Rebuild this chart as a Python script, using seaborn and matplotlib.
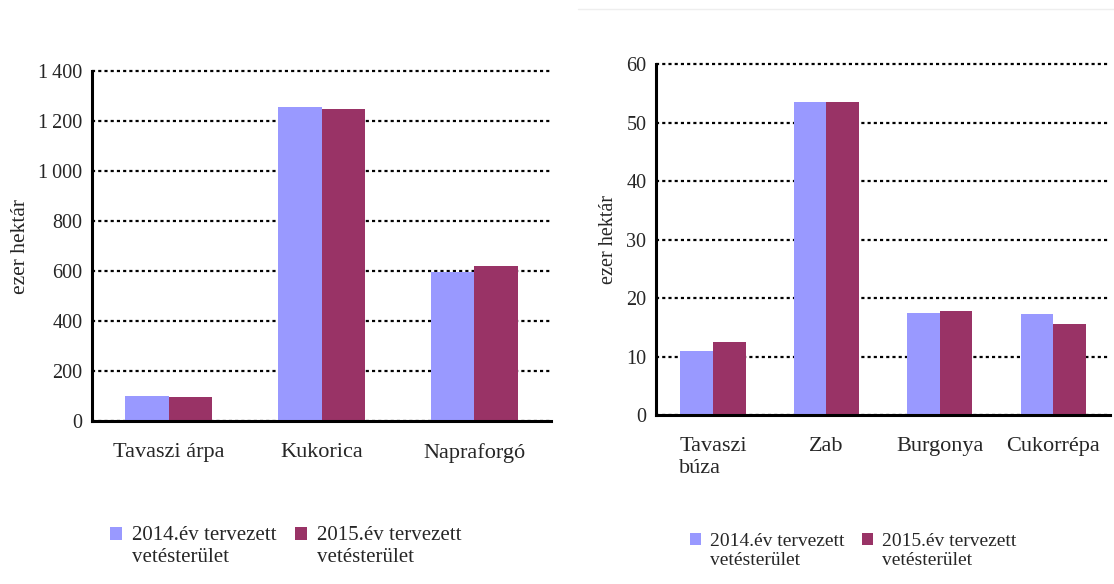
import matplotlib
matplotlib.use("Agg")
import matplotlib.pyplot as plt
import matplotlib.ticker as mticker
from matplotlib.patches import Rectangle
from matplotlib.legend_handler import HandlerPatch
import seaborn as sns
import pandas as pd

# adatok (ezer hektár)
series = ['2014.év tervezett\nvetésterület', '2015.év tervezett\nvetésterület']
crops_left = ['Tavaszi árpa', 'Kukorica', 'Napraforgó']
left_2014 = [99, 1256, 597]
left_2015 = [95, 1248, 622]
crops_right = ['Tavaszi\nbúza', 'Zab', 'Burgonya', 'Cukorrépa']
right_2014 = [10.9, 53.5, 17.4, 17.3]
right_2015 = [12.6, 53.5, 17.8, 15.6]

colors = ['#9999FF', '#993366']

sns.set_style('white')
plt.rcParams['font.family'] = ['Liberation Serif', 'DejaVu Serif']


class TopSquare(HandlerPatch):
    # a jelmagyarázat négyzete a felső sorhoz igazodik
    def create_artists(self, legend, orig_handle, xdescent, ydescent,
                       width, height, fontsize, trans):
        p = Rectangle((-xdescent, -ydescent + 0.62 * fontsize), width, height,
                      facecolor=orig_handle.get_facecolor(), edgecolor='none')
        p.set_transform(trans)
        return [p]


def long_df(crops, a, b):
    return pd.DataFrame({
        'crop': crops * 2,
        'value': a + b,
        'year': [series[0]] * len(crops) + [series[1]] * len(crops),
    })


def style_axis(ax, n, ymax, step, fmt, fs_x, fs_y, fs_lab, fs_leg, leg_xy):
    ax.set_xlim(-0.5, n - 0.5)
    ax.set_ylim(0, ymax)
    ax.yaxis.set_major_locator(mticker.MultipleLocator(step))
    ax.yaxis.set_major_formatter(mticker.FuncFormatter(fmt))
    ax.xaxis.set_minor_locator(mticker.FixedLocator([i - 0.5 for i in range(n + 1)]))
    ax.tick_params(axis='x', which='major', length=0, labelsize=fs_x, pad=16)
    ax.tick_params(axis='x', which='minor', length=7, width=2.2, direction='out', color='black')
    ax.tick_params(axis='y', length=6, width=2.2, direction='out', color='black',
                   labelsize=fs_y, pad=1)
    for lbl in ax.get_xticklabels():
        lbl.set_multialignment('left')
        lbl.set_verticalalignment('top')
    ax.set_axisbelow(True)
    ax.yaxis.grid(True, color='black', linestyle=(0, (1.4, 1.4)), linewidth=1.6)
    for gl in ax.get_ygridlines():
        gl.set_clip_on(False)
    ax.xaxis.grid(False)
    for s in ['top', 'right']:
        ax.spines[s].set_visible(False)
    for s in ['left', 'bottom']:
        ax.spines[s].set_color('black')
        ax.spines[s].set_linewidth(2.2)
    ax.set_xlabel('')
    ax.set_ylabel('ezer hektár', fontsize=fs_lab, labelpad=6)
    handles, labels = ax.get_legend_handles_labels()
    ax.legend(handles, labels, loc='upper left', bbox_to_anchor=leg_xy, ncol=2, frameon=False,
              fontsize=fs_leg, handlelength=0.58, handleheight=0.58, handletextpad=0.45,
              columnspacing=0.9, borderaxespad=0, borderpad=0, labelspacing=0,
              handler_map={Rectangle: TopSquare()})


fig = plt.figure(figsize=(11.14, 5.84), dpi=100)
ax1 = fig.add_axes([0.0826, 0.279, 0.4120, 0.599])
ax2 = fig.add_axes([0.589, 0.289, 0.4075, 0.601])

sns.barplot(data=long_df(crops_left, left_2014, left_2015), x='crop', y='value', hue='year',
            palette=colors, width=0.575, gap=0, saturation=1, linewidth=0, ax=ax1)
sns.barplot(data=long_df(crops_right, right_2014, right_2015), x='crop', y='value', hue='year',
            palette=colors, width=0.575, gap=0, saturation=1, linewidth=0, ax=ax2)

style_axis(ax1, 3, 1400, 200, lambda v, p: f'{int(v):,}'.replace(',', '\u2009'),
           16, 14.5, 15.5, 15, (0.04, -0.3))
style_axis(ax2, 4, 60, 10, lambda v, p: f'{int(v)}',
           16, 14.5, 14.5, 14, (0.075, -0.335))

fig.add_artist(plt.Line2D([0.519, 1.0], [0.985, 0.985], color='#eeeeee', linewidth=1))

fig.savefig('out.png', dpi=100)
